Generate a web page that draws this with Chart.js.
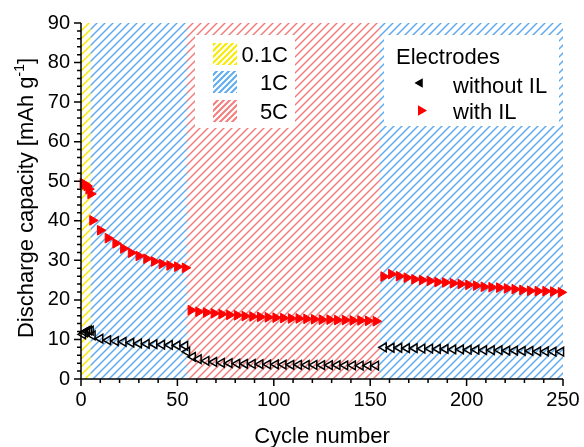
<!DOCTYPE html>
<html>
<head>
<meta charset="utf-8">
<script src="https://cdn.jsdelivr.net/npm/chart.js@4.4.1/dist/chart.umd.min.js"></script>
<style>
    html, body { margin: 0; padding: 0; background: #fff; }
    #wrap { width: 584px; height: 447px; position: relative; }
</style>
</head>
<body>
<div id="wrap"><canvas id="chart"></canvas></div>
<script>
const FONT = '"Liberation Sans", Arial, Helvetica, sans-serif';

// C-rate steps along the cycle axis
const rateNames = ['0.1C', '1C', '5C', '1C'];
const rateStart = [0, 5, 55, 155];
const rateEnd = [5, 55, 155, 250];
const legendRates = ['0.1C', '1C', '5C'];

// Electrodes without IL (open black triangles)
const cyclesWithout = [1, 2, 3, 4, 5,
    6, 10, 14, 18, 22, 26, 30, 34, 38, 42, 46, 50, 54,
    55, 58, 61, 65, 69, 73, 77, 81, 85, 89, 93, 97, 101, 105, 109, 113, 117, 121, 125, 129, 133, 137, 141, 145, 149, 153,
    157, 161, 165, 169, 173, 177, 181, 185, 189, 193, 197, 201, 205, 209, 213, 217, 221, 225, 229, 233, 237, 241, 245, 249];
const capWithout = [11.3, 11.8, 12.1, 12.3, 12.2,
    11.0, 10.2, 9.8, 9.6, 9.4, 9.2, 9.0, 8.9, 8.8, 8.7, 8.6, 8.5, 8.4,
    6.9, 5.6, 5.0, 4.6, 4.3, 4.1, 4.0, 3.9, 3.85, 3.8, 3.75, 3.7, 3.7, 3.65, 3.6, 3.6, 3.55, 3.55, 3.5, 3.5, 3.5, 3.45, 3.45, 3.4, 3.4, 3.4,
    8.0, 7.9, 7.9, 7.8, 7.8, 7.7, 7.7, 7.6, 7.6, 7.5, 7.5, 7.4, 7.4, 7.3, 7.3, 7.3, 7.2, 7.2, 7.1, 7.1, 7.0, 7.0, 6.9, 6.9];

// Electrodes with IL (filled red triangles)
const cyclesWith = [1, 2, 3, 4, 5,
    6, 10, 14, 18, 22, 26, 30, 34, 38, 42, 46, 50, 54,
    57, 61, 65, 69, 73, 77, 81, 85, 89, 93, 97, 101, 105, 109, 113, 117, 121, 125, 129, 133, 137, 141, 145, 149, 153,
    157, 161, 165, 169, 173, 177, 181, 185, 189, 193, 197, 201, 205, 209, 213, 217, 221, 225, 229, 233, 237, 241, 245, 249];
const capWith = [49.5, 49.2, 48.8, 48.0, 46.8,
    40.1, 37.6, 35.6, 34.3, 33.0, 31.9, 31.1, 30.4, 29.7, 29.1, 28.7, 28.4, 28.1,
    17.4, 17.0, 16.8, 16.6, 16.4, 16.2, 16.1, 15.9, 15.8, 15.7, 15.6, 15.5, 15.4, 15.3, 15.3, 15.2, 15.1, 15.0, 15.0, 14.9, 14.9, 14.8, 14.8, 14.7, 14.6,
    25.9, 26.5, 26.0, 25.6, 25.2, 25.0, 24.8, 24.5, 24.4, 24.2, 24.0, 23.8, 23.6, 23.3, 23.2, 23.1, 22.9, 22.7, 22.5, 22.3, 22.2, 22.2, 22.1, 21.9];

const rateColors = { '0.1C': '#f7ea00', '1C': '#5fabef', '5C': '#f27d7d' };

const canvas = document.getElementById('chart');
const ctx = canvas.getContext('2d');

const makeHatch = (color, size, lw) => {
    const c = document.createElement('canvas');
    c.width = c.height = size;
    const g = c.getContext('2d');
    g.strokeStyle = color;
    g.lineWidth = lw;
    g.beginPath();
    g.moveTo(-2, size + 2); g.lineTo(size + 2, -2);
    g.moveTo(-2, 2); g.lineTo(2, -2);
    g.moveTo(size - 2, size + 2); g.lineTo(size + 2, size - 2);
    g.stroke();
    return ctx.createPattern(c, 'repeat');
};

const plotHatch = {}, legendHatch = {};
Object.keys(rateColors).forEach(k => {
    plotHatch[k] = makeHatch(rateColors[k], 8, 1.5);
    legendHatch[k] = makeHatch(rateColors[k], 6, 2);
});

const toPoints = (xs, ys) => xs.map((x, i) => ({ x, y: ys[i] }));

const decor = {
    id: 'decor',
    beforeDatasetsDraw(chart) {
        const c = chart.ctx, xs = chart.scales.x, ys = chart.scales.y;
        const top = ys.getPixelForValue(90), bottom = ys.getPixelForValue(0);
        c.save();
        rateStart.forEach((s, i) => {
            const l = xs.getPixelForValue(s), r = xs.getPixelForValue(rateEnd[i]);
            c.fillStyle = plotHatch[rateNames[i]];
            c.fillRect(l, top, r - l, bottom - top);
        });
        // legend panels
        c.fillStyle = '#fff';
        c.fillRect(195, 35, 100, 93);
        c.fillRect(384, 35, 175, 91);
        c.restore();
    },
    afterDatasetsDraw(chart) {
        const c = chart.ctx, xs = chart.scales.x, ys = chart.scales.y, a = chart.chartArea;
        c.save();

        // axes + ticks
        c.strokeStyle = '#000';
        c.lineWidth = 1.5;
        c.beginPath();
        c.moveTo(a.left, a.top); c.lineTo(a.left, a.bottom); c.lineTo(a.right, a.bottom);
        for (let v = 0; v <= 250; v += 10) {
            const px = xs.getPixelForValue(v);
            c.moveTo(px, a.bottom); c.lineTo(px, a.bottom + (v % 50 === 0 ? 7 : 4));
        }
        for (let v = 0; v <= 90; v += 2) {
            const py = ys.getPixelForValue(v);
            c.moveTo(a.left, py); c.lineTo(a.left - (v % 10 === 0 ? 7 : 4), py);
        }
        c.stroke();

        // axis titles
        c.fillStyle = '#000';
        c.font = '22px ' + FONT;
        c.textAlign = 'center';
        c.textBaseline = 'alphabetic';
        c.fillText('Cycle number', (a.left + a.right) / 2, 443);

        c.save();
        c.translate(33, (a.top + a.bottom) / 2 - 3);
        c.rotate(-Math.PI / 2);
        c.textAlign = 'left';
        const main = 'Discharge capacity [mAh g';
        c.font = '22px ' + FONT;
        const w1 = c.measureText(main).width;
        const w3 = c.measureText(']').width;
        c.font = '14px ' + FONT;
        const w2 = c.measureText('-1').width;
        const sx = -(w1 + w2 + w3) / 2;
        c.font = '22px ' + FONT;
        c.fillText(main, sx, 0);
        c.fillText(']', sx + w1 + w2, 0);
        c.font = '14px ' + FONT;
        c.fillText('-1', sx + w1, -9);
        c.restore();

        // rate legend
        const boxTops = [43, 71, 100];
        const baselines = [62, 90, 119];
        c.font = '22px ' + FONT;
        c.textAlign = 'right';
        legendRates.forEach((name, i) => {
            c.fillStyle = legendHatch[name];
            c.fillRect(213, boxTops[i], 24, 22);
            c.fillStyle = '#000';
            c.fillText(name, 288, baselines[i]);
        });

        // electrodes legend
        c.textAlign = 'left';
        c.fillText('Electrodes', 396, 64);
        c.fillText('without IL', 453, 92.5);
        c.fillText('with IL', 453, 118.5);
        const ds = chart.data.datasets;
        Chart.helpers.drawPoint(c, { pointStyle: 'triangle', rotation: -90, radius: 4, borderWidth: 1.5 }, 420, 83);
        c.fillStyle = ds[1].backgroundColor; c.strokeStyle = ds[1].borderColor;
        Chart.helpers.drawPoint(c, { pointStyle: 'triangle', rotation: 90, radius: 4.5, borderWidth: 1 }, 421, 110.5);
        c.restore();
    }
};

new Chart(canvas, {
    type: 'scatter',
    data: {
        datasets: [{
            label: 'without IL',
            data: toPoints(cyclesWithout, capWithout),
            pointStyle: 'triangle',
            rotation: -90,
            pointRadius: 5,
            pointBorderWidth: 1.5,
            borderColor: '#000',
            backgroundColor: 'rgba(255,255,255,0)',
            clip: false
        }, {
            label: 'with IL',
            data: toPoints(cyclesWith, capWith),
            pointStyle: 'triangle',
            rotation: 90,
            pointRadius: 5.6,
            pointBorderWidth: 1,
            borderColor: '#ff0000',
            backgroundColor: '#ff0000',
            clip: false
        }]
    },
    options: {
        responsive: true,
        maintainAspectRatio: false,
        animation: false,
        layout: { padding: { left: 0, right: 21, top: 23, bottom: 0 } },
        plugins: { legend: { display: false }, tooltip: { enabled: false } },
        scales: {
            x: {
                type: 'linear',
                min: 0, max: 250,
                border: { display: false },
                grid: { display: false, drawTicks: false },
                ticks: { stepSize: 50, padding: 9, color: '#000', font: { family: FONT, size: 20 }, maxRotation: 0 },
                afterFit: (s) => { s.height = 68; s.paddingLeft = 0; s.paddingRight = 0; }
            },
            y: {
                min: 0, max: 90,
                border: { display: false },
                grid: { display: false, drawTicks: false },
                ticks: { stepSize: 10, padding: 11, color: '#000', font: { family: FONT, size: 20 } },
                afterFit: (s) => { s.width = 81; s.paddingTop = 0; s.paddingBottom = 0; }
            }
        }
    },
    plugins: [decor]
});
</script>
</body>
</html>
